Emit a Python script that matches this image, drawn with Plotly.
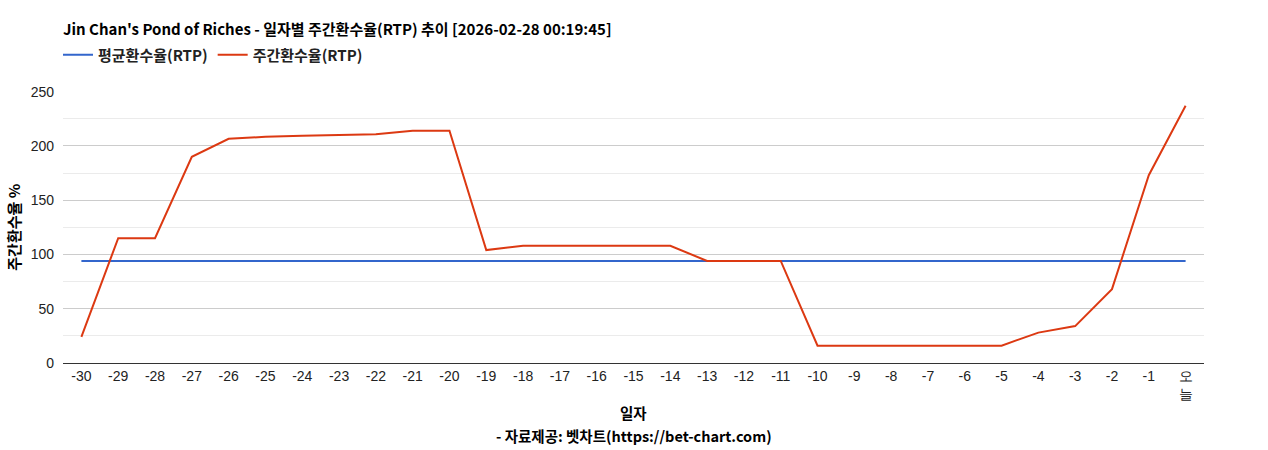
import plotly.graph_objects as go

categories = [str(i) for i in range(-30, 0)] + ["오늘"]
tick_labels = [str(i) for i in range(-30, 0)] + ["오<br>늘"]
weekly_rtp = [24, 115, 115, 190, 206.5, 208.3, 209.3, 209.8, 210.7, 214, 214,
              104, 108, 108, 108, 108, 108, 94, 94, 94, 16, 16, 16, 16, 16, 16,
              28, 34, 68, 173, 237]
avg_rtp = [94] * len(categories)

title_text = "Jin Chan's Pond of Riches - 일자별 주간환수율(RTP) 추이 [2026-02-28 00:19:45]"
x_title = "일자"
source_text = "- 자료제공: 벳차트(https://bet-chart.com)"
ko_font = "Noto Sans CJK KR"
tick_font = "Liberation Sans"

PLOT_TOP, PLOT_BOTTOM = 86, 363
def paper_y(py):
    return (PLOT_BOTTOM - py) / (PLOT_BOTTOM - PLOT_TOP)

fig = go.Figure()
fig.add_trace(go.Scatter(x=categories, y=avg_rtp, mode="lines", name="<b>평균환수율(RTP)</b>",
                         line=dict(color="#3366cc", width=2)))
fig.add_trace(go.Scatter(x=categories, y=weekly_rtp, mode="lines", name="<b>주간환수율(RTP)</b>",
                         line=dict(color="#dc3912", width=2)))

fig.update_layout(
    width=1268, height=450,
    margin=dict(l=63, r=64, t=PLOT_TOP, b=450 - PLOT_BOTTOM),
    paper_bgcolor="white", plot_bgcolor="white",
    showlegend=True,
    legend=dict(orientation="h", x=58/1268, xanchor="left", xref="container",
                y=1 - 55/450, yanchor="middle", yref="container",
                font=dict(family=ko_font, size=15, color="#222"),
                itemwidth=30, bgcolor="rgba(0,0,0,0)"),
    title=dict(text="<b>" + title_text + "</b>", x=63/1268, xanchor="left",
               y=1 - 30/450, yanchor="middle",
               font=dict(family=ko_font, size=15, color="#000")),
    font=dict(family=tick_font, size=14, color="#222"),
    annotations=[
        dict(text="<b>" + x_title + "</b>", xref="paper", x=0.5, xanchor="center",
             yref="paper", y=paper_y(414), yanchor="middle", showarrow=False,
             font=dict(family=ko_font, size=14.5, color="#000")),
        dict(text="<b>" + source_text + "</b>", xref="paper", x=0.5, xanchor="center",
             yref="paper", y=paper_y(437), yanchor="middle", showarrow=False,
             font=dict(family=ko_font, size=14.5, color="#000")),
    ],
)

fig.update_xaxes(
    type="category", range=[-0.5, 30.5],
    tickmode="array", tickvals=categories, ticktext=tick_labels,
    tickangle=0,
    showgrid=False, showline=True, linecolor="#333", linewidth=1,
    ticks="", tickfont=dict(family=tick_font, size=14, color="#222"),
)
fig.update_yaxes(
    range=[0, 250], dtick=50, tick0=0,
    showgrid=True, gridcolor="#cccccc", gridwidth=1,
    minor=dict(dtick=25, showgrid=True, gridcolor="#ebebeb", gridwidth=1),
    zeroline=False, showline=False, ticks="",
    ticklabelstandoff=8,
    tickfont=dict(family=tick_font, size=14, color="#222"),
    title=dict(text="<b>주간환수율 %</b>", font=dict(family=ko_font, size=15, color="#000"),
               standoff=6),
)

fig.write_html("out.html", config={"displayModeBar": False},
               post_script="document.body.style.margin='0';")
